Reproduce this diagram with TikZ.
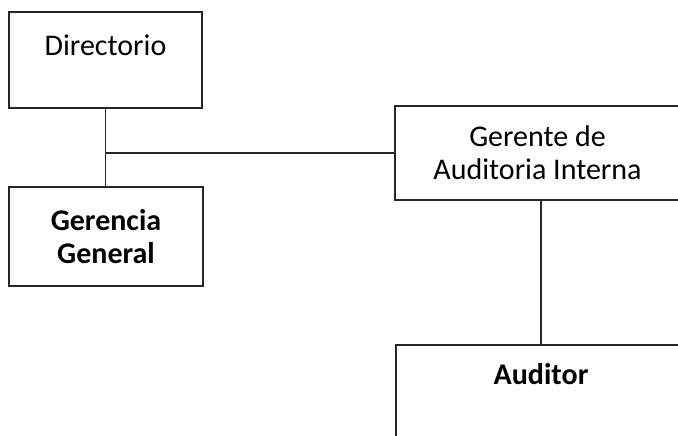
\documentclass[tikz,border=0pt]{standalone}
\usepackage{fontspec}
\setmainfont{Carlito}
\begin{document}
\begin{tikzpicture}[x=0.5pt, y=-0.5pt,
        box/.style = {draw=black!85, line width=0.7pt, inner sep=0pt, align=center, font=\fontsize{15}{16.5}\selectfont},
        boldbox/.style = {box, font=\fontsize{15}{16.5}\selectfont\bfseries},
        link/.style = {draw=black!85, line width=0.7pt}]
        \useasboundingbox (0,0) rectangle (678,435);
        \clip (0,0) rectangle (678,435);
        \node[box, minimum width=96.5pt, text height=21.5pt, text depth=26.5pt] (dir) at (105.5,60) {Directorio};
        \node[boldbox, minimum width=97pt, minimum height=49.5pt] (gg) at (106,236.5) {Gerencia\\General};
        \node[box, minimum width=142.5pt, minimum height=47pt] (gai) at (537.5,153) {Gerente de\\Auditoria Interna};
        \node[boldbox, minimum width=145pt, text height=19.75pt, text depth=42.75pt] (aud) at (541,407.5) {Auditor};

        \draw[link] (dir.south) -- (dir.south |- gg.north);
        \draw[link] (gai.west) -- (gai.west -| dir.south);
        \draw[link] (aud.north) -- (aud.north |- gai.south);
\end{tikzpicture}
\end{document}
